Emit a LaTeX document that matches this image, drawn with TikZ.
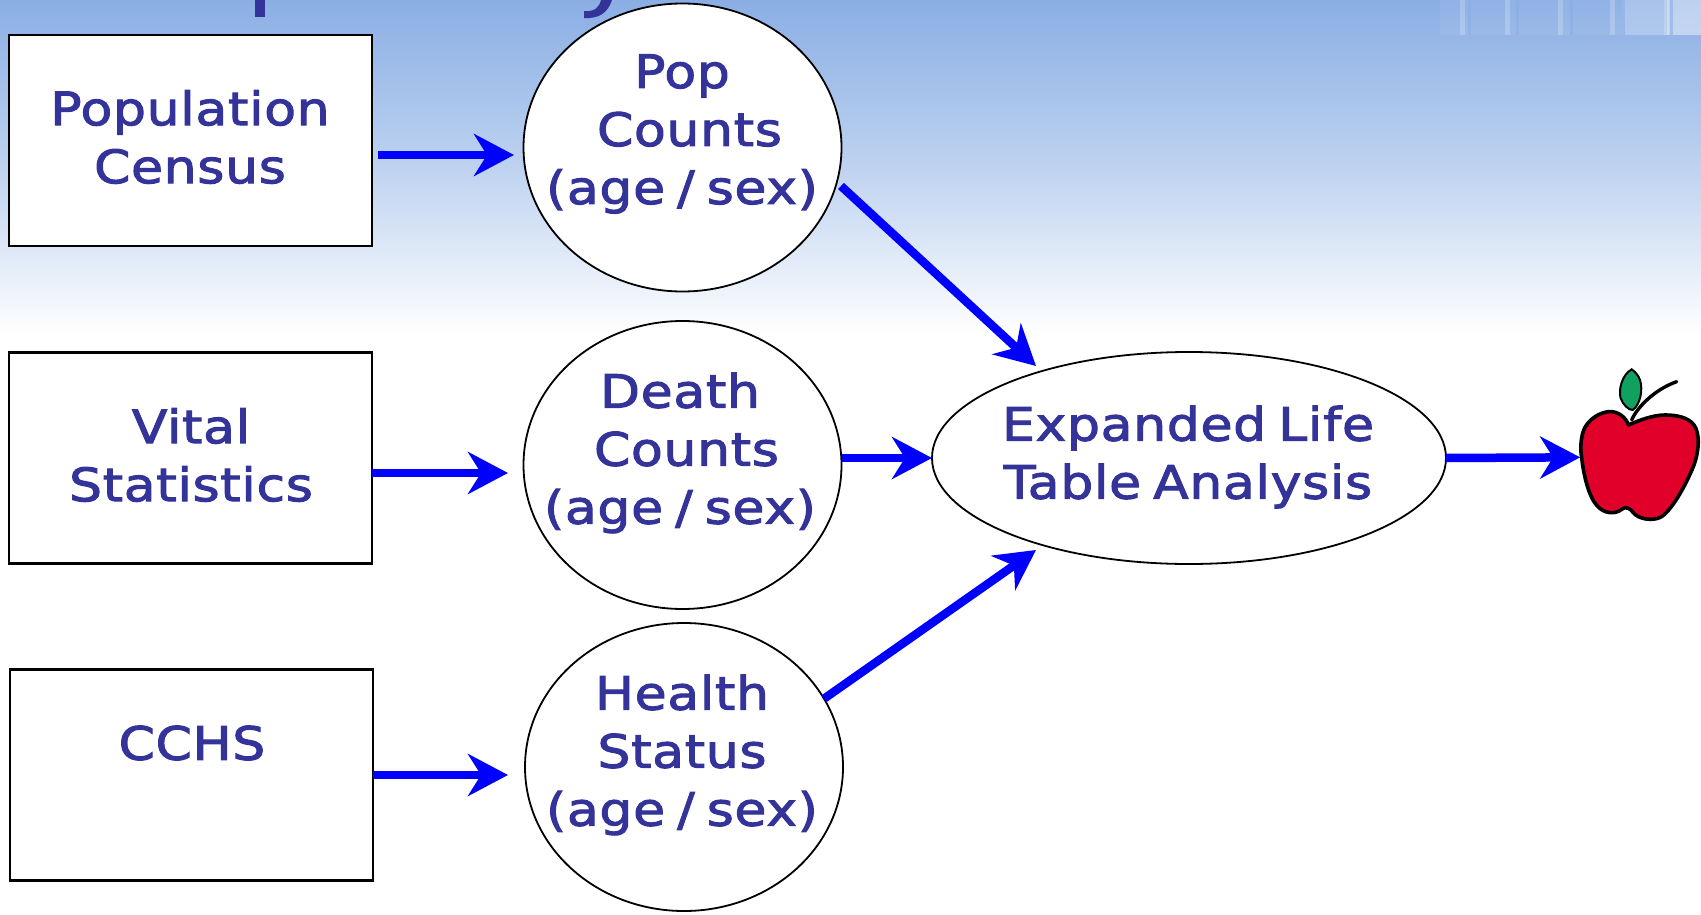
\documentclass[tikz,border=0pt]{standalone}
\usepackage{fontspec}
\setmainfont[FakeStretch=1.13,FakeBold=2.2,WordSpace=0.7,LetterSpace=1.5]{DejaVu Sans}
\usetikzlibrary{arrows.meta,shapes.geometric}
\definecolor{ink}{HTML}{333399}
\definecolor{skytop}{HTML}{8AAEE4}
\definecolor{skymid}{HTML}{BFD3F0}
\definecolor{flow}{HTML}{0000FF}
\definecolor{applered}{HTML}{E0002A}
\definecolor{leafgreen}{HTML}{10A060}
\tikzset{
  srcbox/.style={draw=black,line width=2.4pt,fill=white,minimum width=363pt,minimum height=211pt,inner sep=0pt,outer sep=0pt},
  oval/.style={ellipse,draw=black,line width=1.8pt,fill=white,minimum width=318pt,minimum height=288pt,inner sep=0pt,outer sep=0pt},
  bigoval/.style={ellipse,draw=black,line width=1.8pt,fill=white,minimum width=514pt,minimum height=212pt,inner sep=0pt,outer sep=0pt},
  txt/.style={text=ink,font=\fontsize{46}{58}\selectfont,align=center,inner sep=0pt},
  flowarrow/.style={draw=flow,line width=8.5pt,-{Stealth[length=40pt,width=42pt,inset=13pt]}}
}
\begin{document}
\begin{tikzpicture}[x=1pt,y=-1pt]
\useasboundingbox (0,0) rectangle (1701,915);
% background
\fill[white] (0,0) rectangle (1701,915);
\fill[top color=skytop,bottom color=skymid] (0,0) rectangle (1701,170);
\fill[top color=skymid,bottom color=white] (0,170) rectangle (1701,335);
% banner remnants
\fill[white,opacity=.06] (1440,0) rectangle (1701,35);
\fill[white,opacity=.22] (1622,0) rectangle (1701,35);
\fill[white,opacity=.25] (1667,0) rectangle (1701,35);
\foreach \sx in {1460,1505,1558,1610,1664}{\fill[white,opacity=.2] (\sx,0) rectangle (\sx+5,35);}
\foreach \sx in {1468,1516,1570,1622,1670}{\fill[skytop,opacity=.6] (\sx,0) rectangle (\sx+3,35);}
% title descenders
\fill[ink] (255,0) rectangle (265,17);
\fill[ink] (601,0) -- (612,0) .. controls (608,12) and (600,19) .. (584,18) -- (584,11) .. controls (594,12) and (599,8) .. (601,0) -- cycle;
% source boxes
\node[srcbox] (census) at (190.5,140.5) {};
\node[srcbox] (vital) at (190.5,458) {};
\node[srcbox] (cchs) at (191.5,775) {};
% ovals
\node[oval] (pop) at (682.5,147.5) {};
\node[oval] (death) at (682.5,465) {};
\node[oval] (health) at (684,767) {};
\node[bigoval] (life) at (1189,458) {};
% labels
\node[txt] (censusT) at (190,137) {Population\\Census};
\node[txt] (vitalT) at (191,455) {Vital\\Statistics};
\node[txt] (cchsT) at (192,743) {CCHS};
\node[txt] (popT) at (682,134) {Pop\\\hspace*{15pt}Counts\\(age / sex)};
\node[txt] (deathT) at (680,453) {Death\\\hspace*{13pt}Counts\\(age / sex)};
\node[txt] (healthT) at (682,755) {Health\\Status\\(age / sex)};
\node[txt] (lifeT) at (1188,457) {Expanded Life\\Table Analysis};
% apple
\begin{scope}[shift={(1540,340)},x=0.3333pt,y=-0.3333pt]
\draw[black,line width=3.4pt,line cap=round,line join=round] (275,240) .. controls (290,205) and (340,150) .. (410,125);
\draw[black,line width=2pt,fill=leafgreen] (275,88) .. controls (245,105) and (235,150) .. (242,175) .. controls (250,195) and (265,210) .. (278,210) .. controls (300,195) and (310,150) .. (300,120) .. controls (295,105) and (285,95) .. (275,88) -- cycle;
\node[inner sep=0pt,outer sep=0pt] (apple) at (122,352) {};
\draw[black,line width=3.6pt,fill=applered,line join=round] (205,215) .. controls (180,218) and (150,235) .. (135,262)
  .. controls (122,285) and (120,330) .. (125,352)
  .. controls (130,400) and (145,470) .. (172,498)
  .. controls (190,520) and (225,525) .. (245,508)
  .. controls (258,498) and (270,505) .. (280,518)
  .. controls (295,538) and (340,545) .. (365,530)
  .. controls (400,505) and (440,430) .. (462,375)
  .. controls (478,330) and (480,280) .. (462,255)
  .. controls (445,232) and (410,225) .. (375,225)
  .. controls (340,225) and (300,240) .. (265,255)
  .. controls (260,235) and (235,212) .. (205,215) -- cycle;
\end{scope}
% free connector ends
\coordinate (censusOut) at (378,155);
\coordinate (popIn) at (514,155);
\coordinate (vitalOut) at (372,473);
\coordinate (deathIn) at (508,473);
\coordinate (cchsOut) at (373,775);
\coordinate (healthIn) at (508,775);
\coordinate (popOut) at (841,186);
\coordinate (lifeTop) at (1036,366);
\coordinate (lifeBottom) at (1036,550);
% connectors
\draw[flowarrow] (censusOut) -- (popIn);
\draw[flowarrow] (vitalOut) -- (deathIn);
\draw[flowarrow] (cchsOut) -- (healthIn);
\draw[flowarrow] (popOut) -- (lifeTop);
\draw[flowarrow] (death.east |- life.west) -- (life.west);
\draw[flowarrow] (health.26) -- (lifeBottom);
\draw[flowarrow] (life.east) -- (apple);
\end{tikzpicture}
\end{document}
